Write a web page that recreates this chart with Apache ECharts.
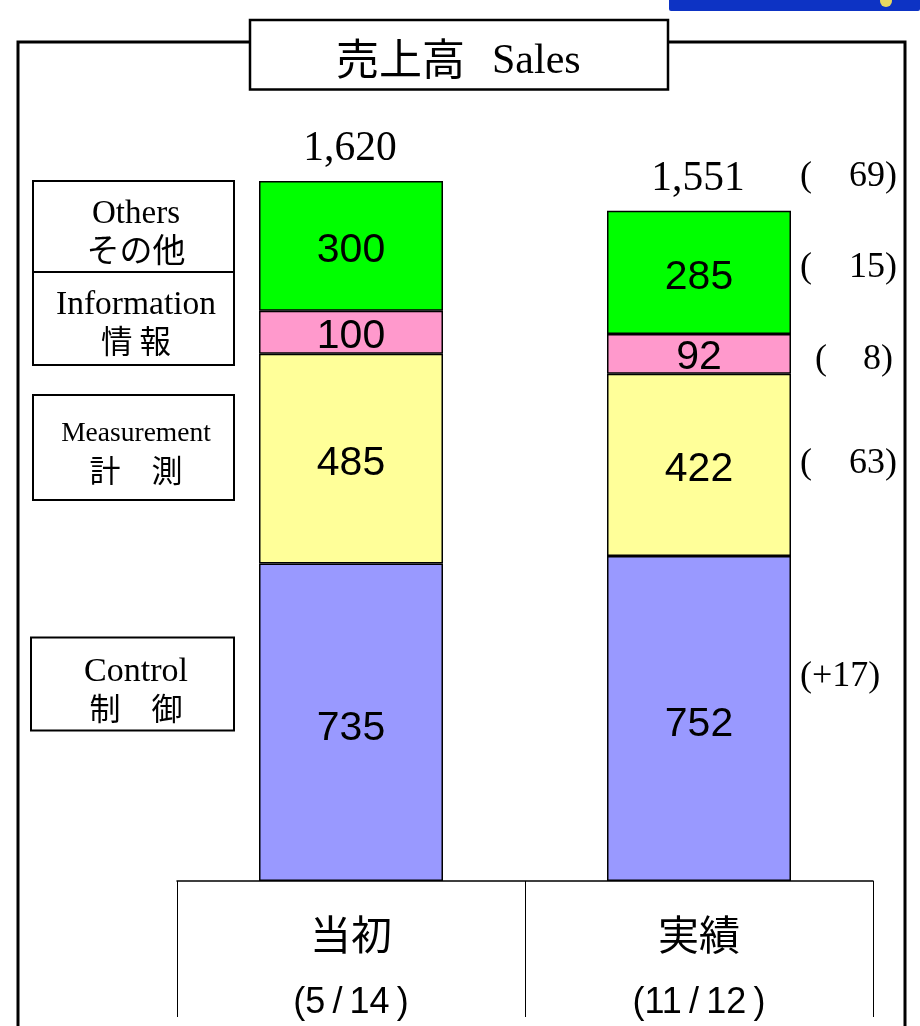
<!DOCTYPE html>
<html><head><meta charset="utf-8">
<style>html,body{margin:0;padding:0;background:#fff}#c{width:920px;height:1026px}</style>
<script src="https://cdn.jsdelivr.net/npm/echarts@6/dist/echarts.min.js"></script>
</head><body><div id="c"></div>
<script>
const categories = ['当初', '実績'];
const dates = ['(5/14)', '(11/12)'];
const control = [735, 752];
const measurement = [485, 422];
const information = [100, 92];
const others = [300, 285];
const totals = ['1,620', '1,551'];
const totalValues = [1620, 1551];
const titleText = '売上高';
const titleLatin = 'Sales';
const segmentNames = ['Control', 'Measurement', 'Information', 'Others'];
const segmentNamesJa = ['制　御', '計　測', '情 報', 'その他'];
const deltas = ['(+17)', '63', '8', '15', '69'];

const SERIF = '"Liberation Serif","Times New Roman",serif';
const SANS = '"Liberation Sans",Arial,sans-serif';
const CJK = '"Noto Sans CJK JP",sans-serif';

function boxEl(x, y, w, h, lw) {
  return {type:'rect', z:5, shape:{x, y, width:w, height:h},
    style:{fill:'#fff', stroke:'#000', lineWidth:lw}};
}
function textEl(x, y, text, font, size, align) {
  return {type:'text', z:10, x, y, style:{text, fill:'#000', align:align||'center',
    verticalAlign:'middle', fontFamily:font, fontSize:size}};
}
const legendLayout = [
  {x:31, y:637.5, w:203, h:93, ly:672, jy:708, fs:34, js:31},
  {x:33, y:395, w:201, h:105, ly:434, jy:470, fs:27.5, js:31},
  {x:33, y:272, w:201, h:93, ly:305, jy:341, fs:33.5, js:31.5},
  {x:33, y:181, w:201, h:91, ly:214, jy:249, fs:33, js:33}
];
const deltaLayout = [
  {y:677, left:800},
  {y:464, left:800, right:897},
  {y:360, left:815, right:893},
  {y:268, left:800, right:897},
  {y:177, left:800, right:897}
];
const graphics = [
  {type:'rect', z:1, shape:{x:669, y:-2, width:251, height:13, r:2}, style:{fill:'#0d33c4'}},
  {type:'circle', z:2, shape:{cx:886, cy:1, r:6}, style:{fill:'#e8d860'}},
  {type:'polyline', z:2, shape:{points:[[18,1026],[18,42],[905,42],[905,1026]]},
    style:{fill:'none', stroke:'#000', lineWidth:3}},
  boxEl(250, 20, 418, 69.5, 2.5),
  textEl(336, 59, titleText, CJK, 43, 'left'),
  textEl(492, 62, titleLatin, SERIF, 42, 'left')
];
legendLayout.forEach((b, i) => {
  graphics.push(boxEl(b.x, b.y, b.w, b.h, 2));
  graphics.push(textEl(136, b.ly, segmentNames[i], SERIF, b.fs));
  graphics.push(textEl(136, b.jy, segmentNamesJa[i], CJK, b.js));
});
deltaLayout.forEach((d, i) => {
  if (d.right) {
    graphics.push(textEl(d.left, d.y, '(', SERIF, 36, 'left'));
    graphics.push(textEl(d.right, d.y, deltas[i] + ')', SERIF, 36, 'right'));
  } else {
    graphics.push(textEl(d.left, d.y, deltas[i], SERIF, 36, 'left'));
  }
});

const seg = (name, data, color, dy) => ({
  name, type:'bar', stack:'s', data, barWidth:184,
  itemStyle:{color, borderColor:'#000', borderWidth:1.5},
  label:{show:true, position:'inside', color:'#000', fontFamily:SANS, fontSize:41, offset:[0,dy]}
});
const spaced = s => s.replace('/', '\u2009/\u2009').replace(')', '\u2009)');

const chart = echarts.init(document.getElementById('c'), null, {renderer:'canvas'});
chart.setOption({
  animation:false,
  backgroundColor:'#fff',
  grid:{left:177, top:181, width:696, height:700, containLabel:false, outerBoundsMode:'none'},
  xAxis:{type:'category', data:categories.map((c,i)=>c+'\n'+dates[i]),
    axisLine:{show:true, lineStyle:{color:'#000', width:1.5}},
    axisTick:{show:true, length:136, lineStyle:{color:'#000', width:1}},
    axisLabel:{margin:20, interval:0, color:'#000',
      formatter:v=>{const p=v.split('\n');return '{a|'+p[0]+'}\n{b|'+spaced(p[1])+'}';},
      rich:{a:{fontFamily:CJK, fontSize:41, lineHeight:66, height:66},
            b:{fontFamily:SANS, fontSize:36, lineHeight:72, height:72}}}},
  yAxis:{type:'value', min:0, max:1620, show:false},
  series:[
    seg('Control', control, '#9999ff', 6),
    seg('Measurement', measurement, '#ffff99', 5),
    seg('Information', information, '#ff99cc', 4),
    seg('Others', others, '#00ff00', 5),
    {name:'Total', type:'line', data:totalValues, symbol:'circle', symbolSize:1, silent:true,
      showSymbol:true, itemStyle:{color:'rgba(0,0,0,0)'},
      lineStyle:{opacity:0}, clip:false,
      label:{show:true, position:'top', distance:10, offset:[-1,0], color:'#000', fontFamily:SERIF, fontSize:41.5,
        formatter:p=>totals[p.dataIndex]}}
  ],
  graphic:graphics
});
</script></body></html>
